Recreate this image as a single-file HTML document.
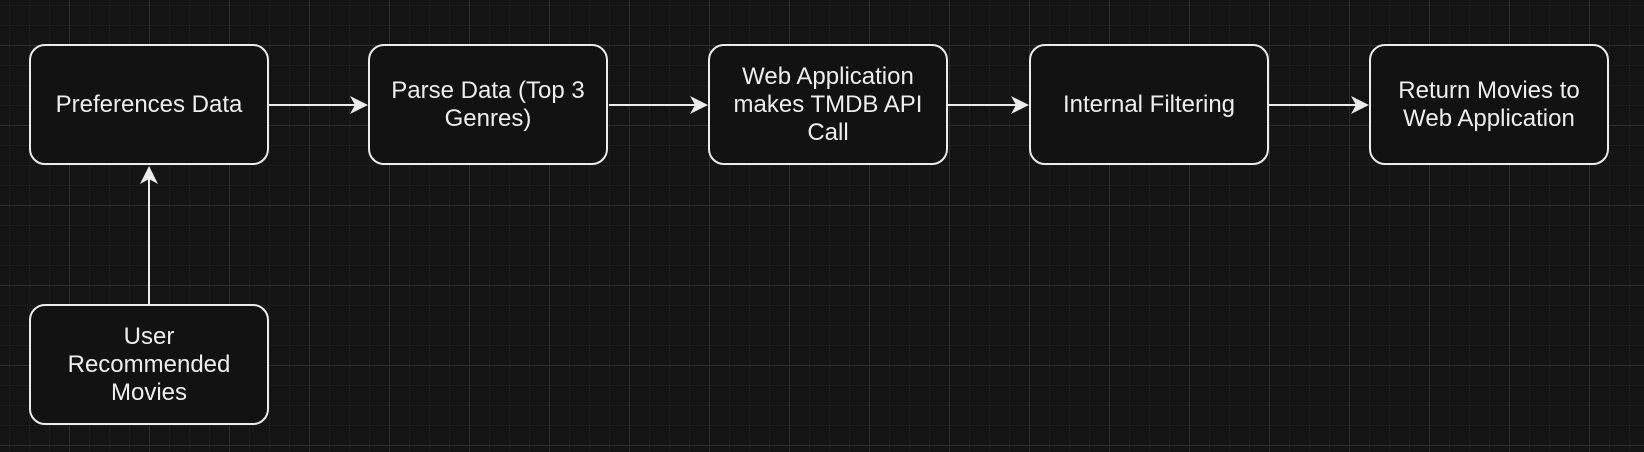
<!DOCTYPE html>
<html><head><meta charset="utf-8"><style>
html,body{margin:0;padding:0;background:#141414;}
body{width:1644px;height:452px;overflow:hidden;position:relative;font-family:"Liberation Sans",Arial,sans-serif;}
.grid{position:absolute;inset:0;
background-image:
linear-gradient(to right,#2e2e2e 0,#2e2e2e 1px,transparent 1px),
linear-gradient(to bottom,#2e2e2e 0,#2e2e2e 1px,transparent 1px),
linear-gradient(to right,#1c1c1c 0,#1c1c1c 1px,transparent 1px),
linear-gradient(to bottom,#1c1c1c 0,#1c1c1c 1px,transparent 1px);
background-size:80px 80px,80px 80px,20px 20px,20px 20px;
background-position:69px 0,0 45px,9px 0,0 5px;}
.box{position:absolute;width:236px;height:117px;border:2px solid #ececec;border-radius:16px;background:#121212;color:#eeeeee;font-size:24px;line-height:28px;display:flex;align-items:center;justify-content:center;text-align:center;}
.box span{display:block;padding:0 12px;}
svg{position:absolute;left:0;top:0;}
</style></head><body>
<div class="grid"></div>
<div class="box" style="left:29px;top:44px;"><span>Preferences Data</span></div>
<div class="box" style="left:368px;top:44px;"><span>Parse Data (Top 3 Genres)</span></div>
<div class="box" style="left:708px;top:44px;"><span>Web Application makes TMDB API Call</span></div>
<div class="box" style="left:1029px;top:44px;"><span>Internal Filtering</span></div>
<div class="box" style="left:1369px;top:44px;"><span>Return Movies to Web Application</span></div>
<div class="box" style="left:29px;top:304px;"><span style="padding:0 30px">User Recommended Movies</span></div>
<svg width="1644" height="452">
<g stroke="#ececec" stroke-width="2" fill="#ececec">
<line x1="269" y1="105" x2="360" y2="105"/>
<line x1="609" y1="105" x2="700" y2="105"/>
<line x1="948" y1="105" x2="1021" y2="105"/>
<line x1="1269" y1="105" x2="1361" y2="105"/>
<line x1="149" y1="304" x2="149" y2="174"/>
</g>
<g fill="#ececec">
<path d="M368 105 L350 96 L355 105 L350 114 Z"/>
<path d="M708 105 L690 96 L695 105 L690 114 Z"/>
<path d="M1029 105 L1011 96 L1016 105 L1011 114 Z"/>
<path d="M1369 105 L1351 96 L1356 105 L1351 114 Z"/>
<path d="M149 166 L140 184 L149 179 L158 184 Z"/>
</g>
</svg>
</body></html>
